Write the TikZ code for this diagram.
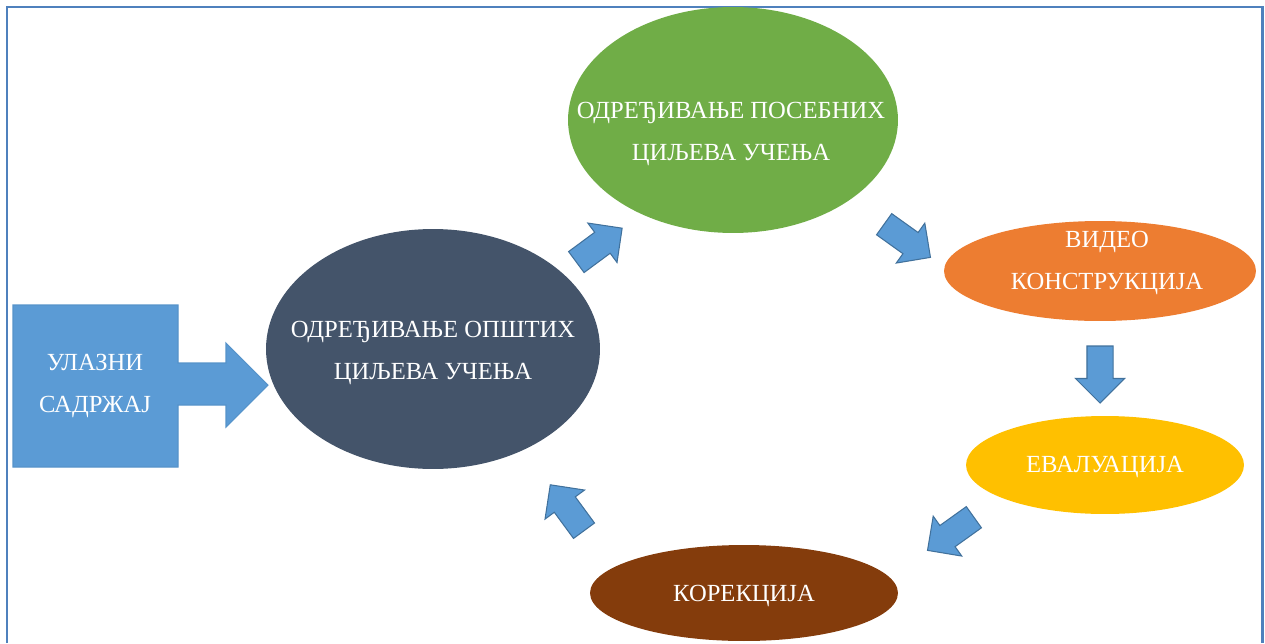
\documentclass[tikz,border=0pt]{standalone}
\usepackage{fontspec}
\setmainfont{Liberation Serif}
\usetikzlibrary{shapes.geometric,shapes.arrows}
\definecolor{frameblue}{HTML}{4F81BD}
\definecolor{arrowblue}{HTML}{5B9BD5}
\definecolor{arrowline}{HTML}{41719C}
\definecolor{slate}{HTML}{44546A}
\definecolor{leaf}{HTML}{70AD47}
\definecolor{carrot}{HTML}{ED7D31}
\definecolor{gold}{HTML}{FFC000}
\definecolor{rust}{HTML}{843C0C}

\begin{document}
\begin{tikzpicture}[x=0.02cm, y=-0.02cm, font=\fontsize{14}{24}\selectfont,
	goal/.style={ellipse, inner sep=0pt},
	goaltext/.style={text=white, align=center},
	flow/.style={single arrow, fill=arrowblue, draw=arrowline, line width=0.6pt, minimum height=1.14cm, inner xsep=0pt, inner ysep=0.25cm, single arrow head extend=0.23cm}]
	\useasboundingbox (0,0) rectangle (1265,643);
	\draw[frameblue, line width=1.7pt] (7,643) -- (7,7) -- (1262,7) -- (1262,643);
	
	\filldraw[fill=arrowblue, draw=arrowblue!80!arrowline, line width=0.6pt] (13,305) -- (178,305) -- (178,363) -- (226,363) -- (226,343) -- (268,385) -- (226,427) -- (226,405) -- (178,405) -- (178,467) -- (13,467) -- cycle;
	\node[goaltext](input) at (95,386) {УЛАЗНИ\\САДРЖАЈ};
	
	\node[goal, fill=slate, minimum width=6.68cm, minimum height=4.8cm, label={[goaltext, yshift=-0.08cm]center:ОДРЕЂИВАЊЕ ОПШТИХ\\ЦИЉЕВА УЧЕЊА}](general) at (433,349) {};
	\node[goal, fill=leaf, minimum width=6.6cm, minimum height=4.52cm, label={[goaltext, xshift=-0.04cm, yshift=-0.28cm]center:ОДРЕЂИВАЊЕ ПОСЕБНИХ\\ЦИЉЕВА УЧЕЊА}](specific) at (733,120) {};
	\node[goal, fill=carrot, minimum width=6.24cm, minimum height=2cm, label={[goaltext, xshift=0.14cm, yshift=0.16cm]center:ВИДЕО\\КОНСТРУКЦИЈА}](video) at (1100,271) {};
	\node[goal, fill=gold, minimum width=5.56cm, minimum height=1.96cm, label={[goaltext, yshift=-0.04cm]center:ЕВАЛУАЦИЈА}](eval) at (1105,465) {};
	\node[goal, fill=rust, minimum width=6.16cm, minimum height=1.92cm, label={[goaltext, yshift=-0.06cm]center:КОРЕКЦИЈА}](fix) at (744,593) {};
	
	\node[flow, rotate=36.5](a1) at (594,249) {};
	\node[flow, rotate=-35.6](a2) at (902,237) {};
	\node[flow, rotate=-90](a3) at (1100,368) {};
	\node[flow, rotate=215.6](a4) at (956,530) {};
	\node[flow, rotate=126.3](a5) at (571,513) {};
\end{tikzpicture}
\end{document}
